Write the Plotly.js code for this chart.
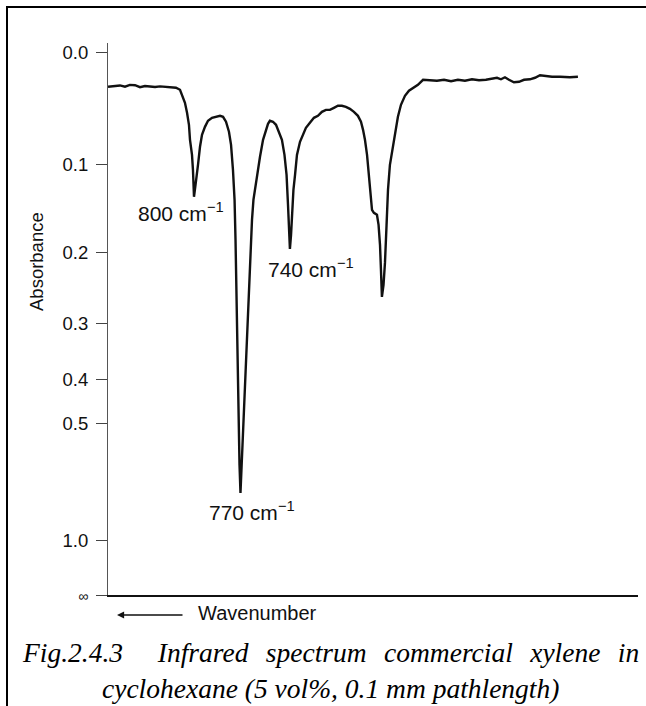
<!DOCTYPE html>
<html>
<head>
<meta charset="utf-8">
<script src="https://cdn.plot.ly/plotly-3.0.1.min.js"></script>
<style>
  html, body { margin: 0; padding: 0; background: #fff; }
  #wrap { position: relative; width: 646px; height: 706px; overflow: hidden; }
  #chart { position: absolute; left: 0; top: 0; width: 646px; height: 706px; }
  #frame { position: absolute; left: 6px; top: 6px; width: 646px; height: 706px;
           border-top: 2px solid #000; border-left: 2px solid #000; pointer-events: none; }
</style>
</head>
<body>
<div id="wrap"><div id="chart"></div><div id="frame"></div></div>
<script>
// Wavenumber (cm^-1), decreasing to the right
const wavenumber = [
  855, 850.6, 847.5, 844.4, 841.3, 838.1, 835, 831.9, 828.8, 825.6, 822.5, 819.4, 816.3,
  812.5, 810, 808.75, 806.9, 805.6, 804.4, 803.75, 802.5, 801.9, 801.25,
  800.3, 799.4, 798.75, 797.5, 796.25, 794.4, 792.5, 790, 787.5, 785, 783.1, 781.25, 779.4, 778.1,
  776.9, 775.9, 775.3, 774.7, 774.1, 773.4, 772.8, 772.2,
  771.6, 770.6, 769.7, 768.75, 767.8, 766.9, 765.9, 765, 764.1, 762.8, 761.6, 760, 758.1, 756.3, 755, 753.8,
  751.9, 750, 748.1, 746.3, 744.7, 743.4, 742.5, 741.9, 741.3,
  740.6, 740, 739.1, 738.1, 736.9, 735, 733.1, 731.3, 728.8, 726.3, 723.8, 721.3, 718.8, 716.3,
  713.8, 711.3, 708.8, 706.3, 703.8, 701.3, 698.8, 696.9, 695.6, 694.4, 693.1, 691.9, 690.9, 690,
  688.8, 686.9, 685.9, 685, 684.4, 683.8,
  682.8, 681.9, 680.9, 680, 678.8, 676.9, 675, 673.8, 671.9, 669.4, 666.9, 664.4, 661.3, 658.1,
  653.8, 649.4, 645, 640.6, 636.3, 631.9, 627.5, 623.1, 618.8, 614.4, 611.9, 609.4, 606.9, 604.4,
  601.3, 598.1, 595, 591.3, 588.1, 585, 581.3, 577.5, 572.5, 566.3, 561.3
];
// Absorbance
const absorbance = [
  0.0281, 0.0276, 0.0270, 0.0281, 0.0265, 0.0268, 0.0285, 0.0275, 0.0280, 0.0283, 0.0278, 0.0281, 0.0285,
  0.0290, 0.0307, 0.0350, 0.0420, 0.0509, 0.0619, 0.0760, 0.0906, 0.1056, 0.1341,
  0.1212, 0.1108, 0.1005, 0.0827, 0.0712, 0.0638, 0.0582, 0.0555, 0.0546, 0.0537, 0.0546, 0.0591, 0.0684, 0.0808,
  0.1056, 0.1374, 0.1838, 0.2642, 0.3818, 0.4910, 0.6200, 0.7254,
  0.6371, 0.5436, 0.4440, 0.3629, 0.2946, 0.2426, 0.1962, 0.1600, 0.1374, 0.1212, 0.1108, 0.0925, 0.0760, 0.0666, 0.0610, 0.0582,
  0.0591, 0.0619, 0.0684, 0.0760, 0.0906, 0.1108, 0.1429, 0.1717, 0.1949,
  0.1777, 0.1565, 0.1265, 0.1108, 0.0906, 0.0779, 0.0703, 0.0647, 0.0600, 0.0555, 0.0537, 0.0501, 0.0483, 0.0483,
  0.0465, 0.0447, 0.0447, 0.0456, 0.0474, 0.0501, 0.0537, 0.0591, 0.0666, 0.0760, 0.0906, 0.1108, 0.1319, 0.1485,
  0.1519, 0.1542, 0.1658, 0.1899, 0.2221, 0.2598,
  0.2426, 0.2129, 0.1658, 0.1265, 0.1005, 0.0827, 0.0647, 0.0546, 0.0438, 0.0359, 0.0315, 0.0290, 0.0264, 0.0222,
  0.0226, 0.0230, 0.0222, 0.0234, 0.0222, 0.0230, 0.0218, 0.0226, 0.0222, 0.0213, 0.0205, 0.0218, 0.0201, 0.0222,
  0.0243, 0.0239, 0.0222, 0.0218, 0.0205, 0.0184, 0.0192, 0.0197, 0.0197, 0.0201, 0.0197
];
// Absorbance axis ticks (scale is linear in transmittance)
const tickAbsorbance = [0.0, 0.1, 0.2, 0.3, 0.4, 0.5, 1.0, Infinity];
const tickLabels = ["0.0", "0.1", "0.2", "0.3", "0.4", "0.5", "1.0", "<span style=\"font-size:14px\">∞</span>"];
// Peak labels
const peakLabels = ["800 cm<sup>−1</sup>", "770 cm<sup>−1</sup>", "740 cm<sup>−1</sup>"];
const xTitle = "Wavenumber";
const yTitle = "Absorbance";
const captionLine1 = "Fig.2.4.3\u00A0 Infrared spectrum commercial xylene in";
const captionLine2 = "cyclohexane (5 vol%, 0.1 mm pathlength)";

const toT = a => Math.pow(10, -a);
const transmittance = absorbance.map(toT);
const tickVals = tickAbsorbance.map(toT);

// plot-area pixel helpers (margins below)
const L = 108, R = 8, T = 43, B = 111, W = 646, H = 706;
const pw = W - L - R, ph = H - T - B;
const px = x => (x - L) / pw;
const py = y => (H - B - y) / ph;

const sans = "Liberation Sans, Arial, Helvetica, sans-serif";
const serif = "Liberation Serif, Times New Roman, serif";

const trace = {
  x: wavenumber, y: transmittance, type: "scatter", mode: "lines",
  line: { color: "#111", width: 2.4 }, hoverinfo: "skip"
};

const layout = {
  width: W, height: H,
  margin: { l: L, r: R, t: T, b: B, pad: 0 },
  paper_bgcolor: "#fff", plot_bgcolor: "#fff",
  showlegend: false,
  xaxis: {
    range: [855, 855 - pw * 0.625], showline: true, linecolor: "#111", linewidth: 1.5,
    showticklabels: false, ticks: "", showgrid: false, zeroline: false, fixedrange: true
  },
  yaxis: {
    range: [0, 1.018], tickmode: "array", tickvals: tickVals, ticktext: tickLabels,
    ticks: "outside", ticklen: 11, tickwidth: 1, tickcolor: "#444", ticklabelstandoff: 4,
    showline: true, linecolor: "#555", linewidth: 1,
    showgrid: false, zeroline: false, fixedrange: true,
    tickfont: { family: sans, size: 18.5, color: "#111" }
  },
  annotations: [
    { xref: "paper", yref: "paper", x: px(181), y: py(212), text: peakLabels[0], showarrow: false,
      xanchor: "center", yanchor: "middle", font: { family: sans, size: 21, color: "#111" } },
    { xref: "paper", yref: "paper", x: px(252), y: py(511), text: peakLabels[1], showarrow: false,
      xanchor: "center", yanchor: "middle", font: { family: sans, size: 21, color: "#111" } },
    { xref: "paper", yref: "paper", x: px(311), y: py(268), text: peakLabels[2], showarrow: false,
      xanchor: "center", yanchor: "middle", font: { family: sans, size: 21, color: "#111" } },
    { xref: "paper", yref: "paper", x: px(36), y: py(262), text: yTitle, showarrow: false, textangle: -90,
      xanchor: "center", yanchor: "middle", font: { family: sans, size: 18.5, color: "#111" } },
    { xref: "paper", yref: "paper", x: px(196), y: py(613), text: xTitle, showarrow: false,
      xanchor: "left", yanchor: "middle", font: { family: sans, size: 20, color: "#111" } },
    { xref: "paper", yref: "paper", x: px(117), y: py(615), text: "", showarrow: true,
      ax: 67, ay: 0, arrowhead: 2, arrowsize: 1.1, arrowwidth: 1.3, arrowcolor: "#111", standoff: 0 },
    { xref: "paper", yref: "paper", x: px(330), y: py(652), showarrow: false,
      text: "<span style=\"word-spacing:10.5px\">" + captionLine1 + "</span>",
      xanchor: "center", yanchor: "middle", align: "center",
      font: { family: serif, size: 27.5, color: "#000", style: "italic" } },
    { xref: "paper", yref: "paper", x: px(330), y: py(688), text: captionLine2, showarrow: false,
      xanchor: "center", yanchor: "middle", align: "center",
      font: { family: serif, size: 27.5, color: "#000", style: "italic" } }
  ]
};

Plotly.newPlot("chart", [trace], layout, { staticPlot: true, displayModeBar: false });
</script>
</body>
</html>
